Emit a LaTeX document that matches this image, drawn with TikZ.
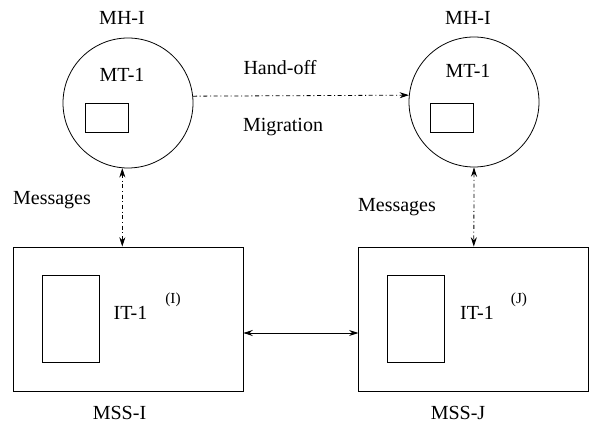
\documentclass[tikz,border=0pt]{standalone}
\usepackage{fontspec}
\setmainfont{Liberation Serif}
\newfontfamily\timesfont{Liberation Serif}
\usetikzlibrary{arrows.meta, positioning}

\begin{document}
\begin{tikzpicture}[
    x=0.75pt, y=-0.75pt,
    line width=0.6pt,
    every node/.style={font=\timesfont\fontsize{15}{17}\selectfont},
    host/.style={circle, draw, minimum size=97.5pt, inner sep=0pt},
    term/.style={rectangle, draw, minimum width=32.25pt, minimum height=21.75pt, inner sep=0pt},
    station/.style={rectangle, draw, minimum width=172.5pt, minimum height=108pt, inner sep=0pt},
    iterm/.style={rectangle, draw, minimum width=42.75pt, minimum height=65.25pt, inner sep=0pt},
    tag/.style={inner sep=0pt},
    sup/.style={inner sep=0pt, font=\timesfont\fontsize{11.5}{13}\selectfont},
    dashdot/.style={dash pattern=on 3pt off 2pt on 0.75pt off 2pt},
    arrow/.style={-{Stealth[length=7pt, width=4.5pt]}},
    twoway/.style={{Stealth[length=7pt, width=4.5pt]}-{Stealth[length=7pt, width=4.5pt]}}
]
\useasboundingbox (0,0) rectangle (591,427);

% mobile hosts
\node[host] (mhL) at (128,103) {};
\node[host] (mhR) at (474,102) {};
\node[term] (mtL) at (106.5,117.5) {};
\node[term] (mtR) at (452.3,117.5) {};
\node[tag] (mhLlabel) at (122,18) {MH-I};
\node[tag] (mhRlabel) at (468,18) {MH-I};
\node[tag] (mtLlabel) at (122,75) {MT-1};
\node[tag] (mtRlabel) at (468,71) {MT-1};

% support stations
\node[station] (mssL) at (128,319) {};
\node[station] (mssR) at (473.8,319) {};
\node[iterm] (itL) at (70.5,318.5) {};
\node[iterm] (itR) at (416,318.5) {};
\node[tag] (itLlabel) at (130.5,313) {IT-1};
\node[tag] (itRlabel) at (477,313) {IT-1};
\node[sup] (supL) at (173,300) {(I)};
\node[sup] (supR) at (519,300) {(J)};
\node[tag] (mssLlabel) at (119.5,413) {MSS-I};
\node[tag] (mssRlabel) at (458,413) {MSS-J};

% arrow labels
\node[tag] (handoff) at (280,68) {Hand-off};
\node[tag] (migration) at (283,127) {Migration};
\node[tag] (msgL) at (52,200) {Messages};
\node[tag] (msgR) at (397,207) {Messages};

% arrows
\draw[arrow, dashdot] (mhL.6) -- (mhR.174);
\draw[twoway, dashdot] (mhL.265) -- (mhL.265 |- mssL.north);
\draw[twoway, dashdot] (mhR.south) -- (mssR.north);
\draw[twoway] ([yshift=-10.5pt]mssL.east) -- ([yshift=-10.5pt]mssR.west);

\end{tikzpicture}
\end{document}
